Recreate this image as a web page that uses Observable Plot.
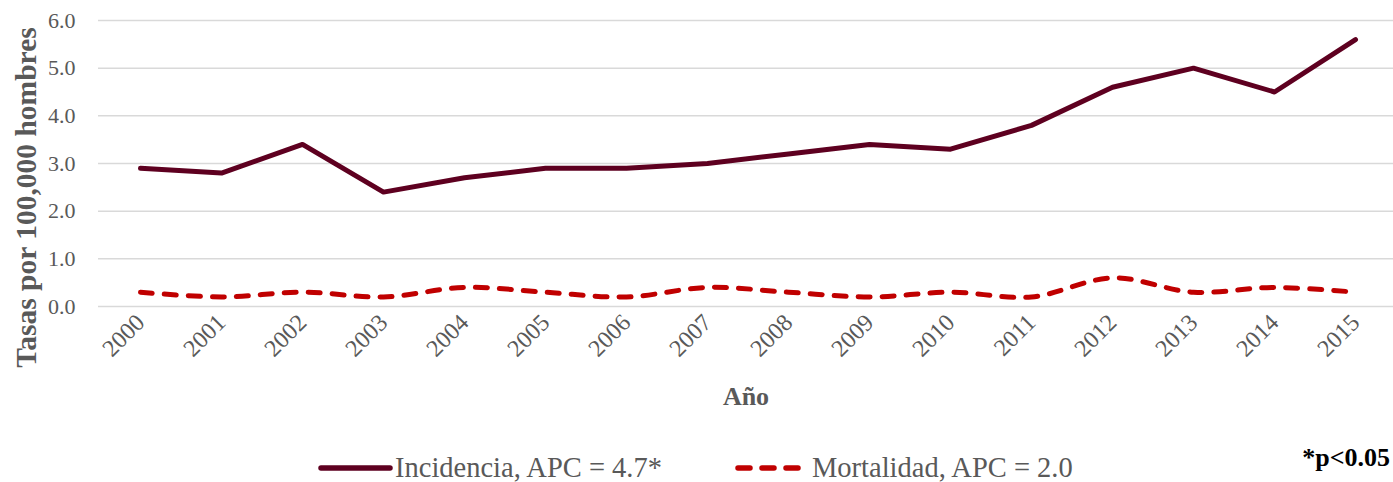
<!DOCTYPE html>
<html>
<head>
<meta charset="utf-8">
<script src="https://cdn.jsdelivr.net/npm/d3@7"></script>
<script src="https://cdn.jsdelivr.net/npm/@observablehq/plot@0.6"></script>
<style>
  html, body { margin: 0; padding: 0; background: #fff; }
  #wrap { position: relative; width: 1393px; height: 482px; font-family: "Liberation Serif", "Times New Roman", serif; }
  #legend { position: absolute; left: 0; top: 451px; width: 1393px; height: 34px; }
  .item { position: absolute; top: 0; display: flex; align-items: center; font-size: 28.5px; color: #595959; white-space: nowrap; line-height: 34px; }
  .note { position: absolute; right: 3px; top: 443px; font-size: 26px; font-weight: bold; color: #000; line-height: 30px; }
</style>
</head>
<body>
<div id="wrap">
  <div id="chart"></div>
  <div id="legend"></div>
  <div class="note">*p&lt;0.05</div>
</div>
<script>
const years = ["2000","2001","2002","2003","2004","2005","2006","2007","2008","2009","2010","2011","2012","2013","2014","2015"];
const incidencia = [2.9, 2.8, 3.4, 2.4, 2.7, 2.9, 2.9, 3.0, 3.2, 3.4, 3.3, 3.8, 4.6, 5.0, 4.5, 5.6];
const mortalidad = [0.3, 0.2, 0.3, 0.2, 0.4, 0.3, 0.2, 0.4, 0.3, 0.2, 0.3, 0.2, 0.6, 0.3, 0.4, 0.3];
const yTicks = [0, 1, 2, 3, 4, 5, 6];
const seriesNames = ["Incidencia, APC = 4.7*", "Mortalidad, APC = 2.0"];
const colors = ["#5E0020", "#C00000"];

const inc = years.map((y, i) => ({year: y, value: incidencia[i]}));
const mort = years.map((y, i) => ({year: y, value: mortalidad[i]}));

const chart = Plot.plot({
  width: 1393,
  height: 440,
  marginLeft: 98,
  marginRight: 0,
  marginTop: 20,
  marginBottom: 134,
  style: {fontFamily: "Liberation Serif, Times New Roman, serif", background: "#fff"},
  x: {type: "point", domain: years, padding: 0, insetLeft: 39, insetRight: 35},
  y: {domain: [0, 6]},
  marks: [
    Plot.ruleY(yTicks, {stroke: "#d9d9d9", strokeWidth: 1.5}),
    Plot.axisY({ticks: yTicks, tickFormat: d => d.toFixed(1), tickSize: 0, tickPadding: 23, fontSize: 22, color: "#595959", label: null}),
    Plot.axisX({tickSize: 0, tickPadding: 12, tickRotate: -45, fontSize: 24, color: "#595959", label: null}),
    Plot.line(mort, {x: "year", y: "value", stroke: colors[1], strokeWidth: 5, strokeDasharray: "12,12", strokeLinecap: "round", curve: "catmull-rom"}),
    Plot.line(inc, {x: "year", y: "value", stroke: colors[0], strokeWidth: 5, strokeLinecap: "round", strokeLinejoin: "round"}),
    Plot.text(["Tasas por 100,000 hombres"], {frameAnchor: "left", textAnchor: "middle", dx: -72, dy: 34, rotate: -90, fontSize: 29.5, fontWeight: "bold", fill: "#595959"}),
    Plot.text(["Año"], {frameAnchor: "bottom", dy: 98, fontSize: 26, fontWeight: "bold", fill: "#595959"})
  ]
});
document.getElementById("chart").appendChild(chart);

const legend = document.getElementById("legend");
const lefts = [318, 735];
seriesNames.forEach((name, i) => {
  const item = document.createElement("div");
  item.className = "item";
  item.style.left = lefts[i] + "px";
  const dash = i === 1 ? 'stroke-dasharray="12,12"' : "";
  const x2 = i === 1 ? 63 : 72;
  item.innerHTML = `<svg width="${x2 + 4}" height="20" style="margin-right:${i === 1 ? 10 : 1}px"><line x1="3" y1="10" x2="${x2}" y2="10" stroke="${colors[i]}" stroke-width="5.5" stroke-linecap="round" ${dash}/></svg><span>${name}</span>`;
  legend.appendChild(item);
});
</script>
</body>
</html>
